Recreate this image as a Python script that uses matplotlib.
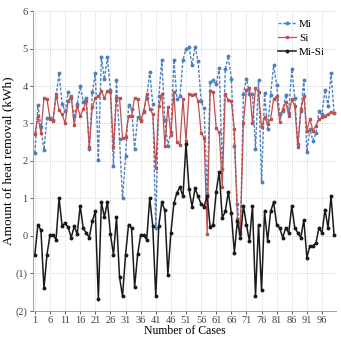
import matplotlib
matplotlib.use("Agg")
import matplotlib.pyplot as plt
from matplotlib.ticker import FuncFormatter

# ---------------------------------------------------------------------------
# DATA
# ---------------------------------------------------------------------------
cases = list(range(1, 101))

mi = [2.22, 3.49, 2.90, 2.29, 3.15, 3.14, 3.10, 3.70, 4.35, 3.52,
      3.33, 3.83, 3.68, 3.21, 3.52, 4.00, 3.58, 3.68, 2.32, 3.83,
      4.34, 2.03, 4.77, 4.18, 4.77, 3.89, 1.87, 4.17, 2.59, 1.00,
      2.13, 3.49, 3.39, 2.32, 3.16, 3.09, 3.32, 3.69, 4.38, 3.52,
      0.20, 3.73, 4.70, 3.08, 2.40, 2.77, 4.70, 3.65, 3.73, 4.70,
      5.00, 5.05, 4.55, 5.05, 4.66, 3.60, 3.40, 1.12, 4.10, 4.15,
      4.05, 4.48, 1.78, 4.45, 4.80, 4.20, 2.40, 0.85, 0.05, 3.80,
      4.20, 3.80, 3.80, 2.33, 4.15, 1.44, 3.81, 2.85, 3.77, 4.55,
      4.03, 3.26, 3.33, 3.77, 3.29, 4.45, 3.68, 2.45, 3.33, 4.16,
      2.23, 2.85, 2.54, 2.75, 3.33, 3.24, 3.90, 3.46, 4.35, 3.29]

si = [2.72, 3.19, 2.75, 3.69, 3.65, 3.12, 3.07, 3.80, 3.35, 3.25,
      3.00, 3.60, 3.73, 2.96, 3.47, 3.20, 3.38, 3.60, 2.37, 3.43,
      3.69, 3.73, 3.87, 3.68, 3.87, 3.84, 2.37, 3.67, 3.69, 2.62,
      2.63, 3.19, 3.19, 3.69, 3.65, 3.07, 3.30, 3.80, 3.38, 3.25,
      1.82, 3.46, 3.80, 2.40, 3.44, 2.69, 3.83, 2.50, 2.43, 3.65,
      2.54, 3.80, 3.77, 3.78, 3.61, 2.75, 2.62, 0.05, 3.87, 3.85,
      2.87, 2.77, 1.30, 3.80, 3.62, 3.60, 2.85, 0.45, 0.10, 3.00,
      3.90, 3.95, 3.00, 3.95, 3.85, 2.90, 3.16, 2.99, 3.12, 3.65,
      3.73, 3.05, 3.38, 3.56, 3.21, 3.65, 3.47, 2.37, 3.38, 3.73,
      2.81, 3.12, 2.81, 2.94, 3.12, 3.16, 3.20, 3.25, 3.30, 3.27]

mi_si = [-0.50, 0.30, 0.15, -1.40, -0.50, 0.02, 0.03, -0.10, 1.00, 0.27,
         0.33, 0.23, -0.05, 0.25, 0.05, 0.80, 0.20, 0.08, -0.05, 0.40,
         0.65, -1.70, 0.90, 0.50, 0.90, 0.05, -0.50, 0.50, -1.10, -1.62,
         -0.50, 0.30, 0.20, -1.37, -0.49, 0.02, 0.02, -0.11, 1.00, 0.27,
         -1.62, 0.27, 0.90, 0.68, -1.04, 0.08, 0.87, 1.15, 1.30, 1.05,
         2.46, 1.25, 0.78, 1.27, 1.05, 0.85, 0.78, 1.07, 0.23, 0.30,
         1.18, 1.71, 0.48, 0.65, 1.18, 0.60, -0.45, 0.40, -0.05, 0.80,
         0.30, -0.15, 0.80, -1.62, 0.30, -1.46, 0.65, -0.14, 0.65, 0.90,
         0.30, 0.21, -0.05, 0.21, 0.08, 0.80, 0.21, 0.08, -0.05, 0.43,
         -0.58, -0.27, -0.27, -0.19, 0.21, 0.08, 0.70, 0.21, 1.05, 0.02]

x_ticks = list(range(1, 100, 5))
y_ticks = list(range(-2, 7))

# ---------------------------------------------------------------------------
# PLOT
# ---------------------------------------------------------------------------
plt.rcParams["font.family"] = ["Liberation Serif", "DejaVu Serif"]

fig = plt.figure(figsize=(3.41, 3.37), dpi=100)
ax = fig.add_axes([0.097, 0.078, 0.888, 0.889])

ax.plot(cases, mi, color="#4f81bd", linestyle=(0, (2.2, 1.2)), linewidth=1.0,
        marker="o", markersize=1.8, label="Mi")
ax.plot(cases, si, color="#c0504d", linestyle="-", linewidth=0.9,
        marker="s", markersize=1.8, label="Si")
ax.plot(cases, mi_si, color="#1a1a1a", linestyle="-", linewidth=1.1,
        marker="o", markersize=1.8, label="Mi-Si")

ax.set_xlim(0.4, 100.6)
ax.set_ylim(-2, 6)
ax.set_xticks(x_ticks)
ax.set_yticks(y_ticks)
ax.yaxis.set_major_formatter(
    FuncFormatter(lambda v, p: f"({abs(int(v))})" if v < 0 else f"{int(v)}"))
ax.tick_params(labelsize=7.5, colors="#404040", length=2, width=0.6, pad=2)

ax.grid(True, linestyle=(0, (1, 1.5)), color="#c8c8c8", linewidth=0.6)
ax.set_axisbelow(True)
for side in ["top", "right"]:
    ax.spines[side].set_visible(False)
for side in ["left", "bottom"]:
    ax.spines[side].set_color("#a0a0a0")
    ax.spines[side].set_linewidth(0.7)

ax.set_xlabel("Number of Cases", fontsize=8.5, labelpad=-0.5)
ax.set_ylabel("Amount of heat removal (kWh)", fontsize=9.5, labelpad=1)

ax.legend(loc="upper right", frameon=False, fontsize=8, handlelength=1.6,
          handletextpad=0.3, labelspacing=0.4, borderaxespad=0.3,
          bbox_to_anchor=(0.99, 1.0))

fig.savefig("out.png", dpi=100)
